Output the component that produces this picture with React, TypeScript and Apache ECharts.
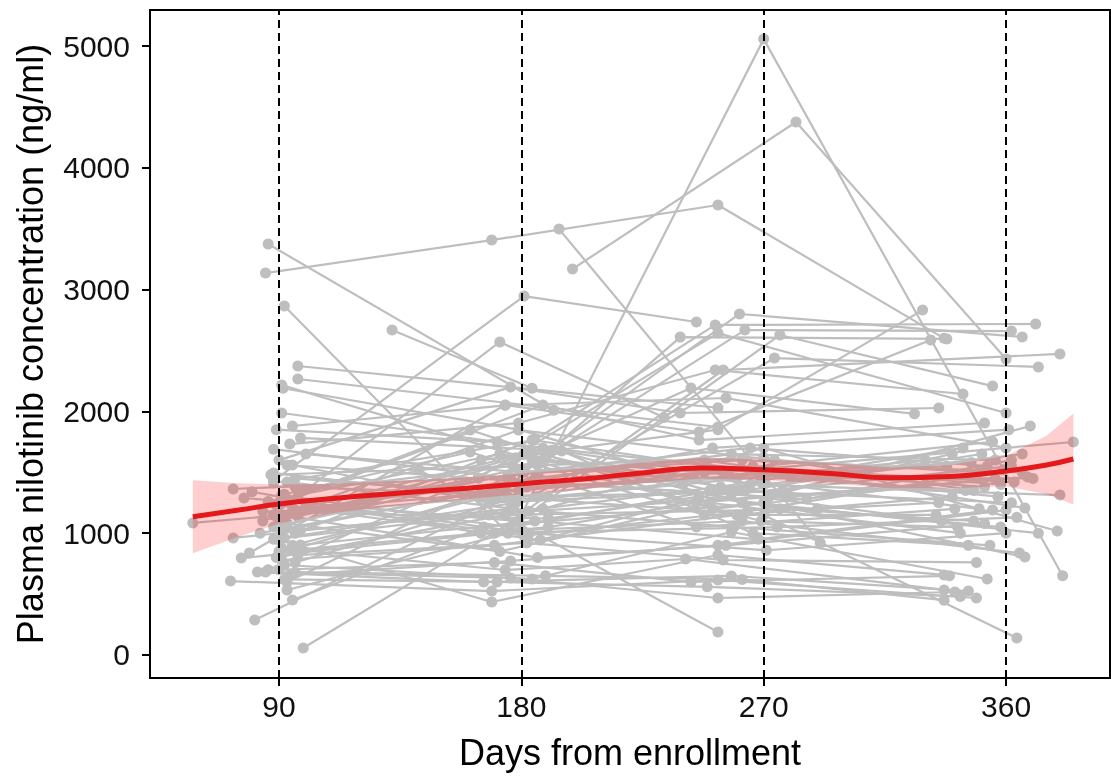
import React, { useEffect, useRef } from "react";
import * as echarts from "echarts";

const xTicks = [90, 180, 270, 360];
const yTicks = [0, 1000, 2000, 3000, 4000, 5000];

// Each subject: list of [day, concentration]
const subjects: number[][][] = [
  [[86, 3374], [192, 2010]],
  [[85, 3136], [169, 3407], [253, 3695], [337, 2600]],
  [[194, 3497], [291, 920]],
  [[180, 1150], [270, 5057], [381, 650]],
  [[199, 3169], [282, 4376], [360, 2430]],
  [[92, 2866], [175, 1000]],
  [[132, 2668], [184, 2190]],
  [[88, 1430], [181, 2947], [245, 2734]],
  [[88, 1150], [172, 2570], [233, 1950]],
  [[97, 2373], [253, 2030]],
  [[97, 2266], [253, 1872]],
  [[91, 2217], [184, 1600], [270, 1400], [366, 1650]],
  [[91.5, 2190], [179, 1850], [258, 1350], [362, 1250]],
  [[91, 1987], [188, 1700], [276, 1500], [352, 1380]],
  [[95, 1880], [174, 2050], [256, 2110], [360, 1700]],
  [[98, 1782], [191, 1680], [243, 2192], [326, 1980]],
  [[94, 1732], [179, 1905], [252, 2340], [344, 2143]],
  [[88, 1690], [176, 1450], [263, 2668], [362, 2660]],
  [[88, 1494], [166, 1300], [261, 2800], [366, 2611]],
  [[88, 1412], [185, 1765], [252, 2710], [371, 2718]],
  [[73, 1363], [164, 1453], [253, 2643], [360, 1987]],
  [[77, 1289], [179, 1100], [276, 2627], [355, 2208]],
  [[58, 1084], [171, 1300], [239, 2610], [338, 2595]],
  [[73, 961], [176, 1200], [274, 2438], [372, 2365]],
  [[76, 796], [170, 1000], [255, 2340], [380, 2472]],
  [[79, 837], [174, 2052], [246, 1831], [332, 2586]],
  [[72, 607], [169, 525], [253, 616], [349, 468]],
  [[82, 681], [166, 599], [258, 649], [346, 525]],
  [[85, 681], [176, 632], [253, 468], [341, 517]],
  [[81, 287], [175, 1297], [270, 1150], [364, 140]],
  [[99, 57], [183, 1180], [272, 1300], [369, 1880]],
  [[142, 1520], [253, 189]],
  [[90, 944], [169, 435], [253, 821], [337, 657]],
  [[91, 878], [174, 698], [241, 788], [337, 534]],
  [[92, 739], [184, 624], [258, 1010], [353, 624]],
  [[94, 657], [176, 772], [253, 900], [360, 1190]],
  [[93, 534], [180, 1026], [262, 1100], [365, 837]],
  [[95, 452], [166, 1051], [270, 1250], [367, 805]],
  [[89, 1232], [187, 944], [265, 1400], [380, 1313]],
  [[92, 1150], [181, 1500], [248, 1600], [367, 1207]],
  [[98, 1026], [188, 1200], [270, 1700], [379, 1018]],
  [[95, 1190], [179, 1350], [255, 1500], [385, 1749]],
  [[91, 780], [170, 900], [260, 1150], [340, 1300]],
  [[98, 903], [185, 1100], [268, 950], [355, 1190]],
  [[165, 1600], [253, 1850], [329, 2832]],
  [[90, 1600], [176, 2200], [239, 1987], [335, 2028]],
  [[97, 1300], [188, 2052], [246, 1765], [352, 1905]],
  [[84, 1100], [179, 1847], [274, 1600], [350, 1500]],
  [[96, 1000], [184, 1765], [280, 1450], [345, 1350]],
  [[90, 1050], [192, 1683], [250, 1350], [336, 1100]],
  [[86, 700], [184, 1667], [262, 1250], [358, 1050]],
  [[93, 600], [195, 1675], [266, 1000], [346, 900]],
  [[90, 1250], [161, 1847], [251, 1200], [356, 1450]],
  [[92, 1320], [161, 1667], [245, 1050], [341, 1200]],
  [[98, 1180], [164, 1453], [258, 1320], [362, 1550]],
  [[83, 1000], [180, 1400], [272, 1530], [363, 1420]],
  [[89, 800], [174, 1150], [290, 1200], [335, 1250]],
  [[88, 950], [178, 1250], [268, 1500], [357, 1300]],
  [[96, 1380], [190, 1300], [240, 1400], [330, 1600]],
  [[91, 1150], [186, 800], [256, 900], [352, 1080]],
  [[93, 1080], [172, 850], [250, 1250], [343, 1000]],
  [[100, 1230], [181, 980], [264, 1180], [359, 1520]],
  [[87, 1480], [177, 1550], [270, 1620], [348, 1350]],
  [[95, 900], [182, 1380], [260, 1450], [370, 1450]],
  [[90, 700], [170, 760], [243, 600], [339, 650]],
  [[92, 620], [171, 600], [249, 560], [343, 480]],
  [[96, 680], [189, 650], [262, 620], [337, 450]],
  [[80, 1340], [165, 1000], [275, 1050], [364, 1130]],
  [[84, 1180], [190, 1120], [246, 1300], [372, 1000]],
  [[96, 1450], [186, 1300], [277, 1350], [340, 1650]],
  [[100, 1650], [180, 1500], [265, 1700], [353, 1550]],
  [[89, 1850], [171, 1750], [248, 1500], [355, 1750]],
  [[93, 1560], [183, 1420], [286, 1280], [362, 1600]],
  [[97, 820], [182, 920], [255, 780], [349, 760]],
  [[91, 1310], [176, 1050], [269, 1420], [350, 1200]],
  [[90, 1100], [178, 1620], [257, 1480], [347, 1580]],
  [[94, 1270], [183, 1000], [271, 860], [360, 1000]],
  [[88, 1050], [175, 1480], [262, 1600], [366, 1500]],
  [[97, 1140], [186, 1560], [248, 1150], [334, 1150]],
  [[92, 960], [168, 1150], [254, 1380], [344, 1700]],
  [[96, 760], [179, 1300], [266, 1550], [358, 1400]],
  [[90, 850], [190, 1050], [245, 1250], [330, 1400]],
  [[86, 1260], [172, 1650], [280, 1300], [368, 1461]],
  [[93, 1420], [177, 1200], [259, 1050], [354, 900]],
  [[99, 1350], [187, 1580], [269, 1100], [342, 1050]],
  [[91, 1020], [174, 1380], [251, 1700], [361, 1850]],
  [[95, 1560], [168, 1250], [263, 1350], [351, 1650]],
  [[88, 1150], [181, 1650], [276, 1200], [348, 1100]],
  [[94, 860], [171, 1350], [244, 1450], [338, 1550]],
  [[96, 1190], [185, 1450], [258, 1650], [356, 1600]],
];

// Smoothed fit and confidence half-width
const fitDays = [58, 75, 90, 110, 135, 160, 180, 205, 225, 247, 270, 295, 317, 339, 360, 375, 385];
const fitMean = [1135, 1190, 1240, 1285, 1330, 1370, 1405, 1450, 1495, 1535, 1520, 1490, 1455, 1465, 1510, 1560, 1609];
const fitHalf = [300, 220, 160, 120, 100, 90, 85, 85, 85, 85, 85, 85, 85, 95, 125, 240, 373];

const FONT = "'Liberation Sans', Arial, sans-serif";

export default function App() {
  const ref = useRef<HTMLDivElement>(null);
  useEffect(() => {
    const chart = echarts.init(ref.current as HTMLDivElement, null, { renderer: "svg" });
    const subjectSeries = subjects.map((pts, i) => ({
      type: "line",
      name: "subject" + i,
      data: pts,
      symbol: "circle",
      symbolSize: 11,
      showSymbol: true,
      itemStyle: { color: "#BEBEBE" },
      lineStyle: { color: "#BEBEBE", width: 2.2 },
      z: 2,
      silent: true,
    }));
    const option: any = {
      animation: false,
      grid: {
        left: 150,
        right: 1,
        top: 10,
        bottom: 100,
        show: true,
        borderColor: "#000",
        borderWidth: 2,
        backgroundColor: "transparent",
      },
      xAxis: {
        type: "value",
        min: 42.1,
        max: 398.6,
        splitLine: { show: false },
        axisLine: { show: true, onZero: false, lineStyle: { color: "#000", width: 2 } },
        axisTick: { show: true, customValues: xTicks, length: 8, lineStyle: { color: "#000", width: 2 } },
        axisLabel: {
          customValues: xTicks,
          fontSize: 30,
          color: "#111",
          margin: 13,
          fontFamily: FONT,
          formatter: (v: number) => String(v),
        },
        name: "Days from enrollment",
        nameLocation: "middle",
        nameGap: 56,
        nameTextStyle: { fontSize: 36, color: "#000", fontFamily: FONT },
      },
      yAxis: {
        type: "value",
        min: -189,
        max: 5296,
        splitLine: { show: false },
        axisLine: { show: true, onZero: false, lineStyle: { color: "#000", width: 2 } },
        axisTick: { show: true, customValues: yTicks, length: 8, lineStyle: { color: "#000", width: 2 } },
        axisLabel: {
          customValues: yTicks,
          fontSize: 30,
          color: "#111",
          margin: 20,
          fontFamily: FONT,
          formatter: (v: number) => String(v),
        },
        name: "Plasma nilotinib concentration (ng/ml)",
        nameLocation: "middle",
        nameGap: 102,
        nameTextStyle: { fontSize: 36, color: "#000", fontFamily: FONT },
      },
      series: [
        {
          type: "line",
          data: [],
          z: 1,
          silent: true,
          markLine: {
            silent: true,
            symbol: "none",
            label: { show: false },
            lineStyle: { color: "#000", type: [8, 5], width: 2 },
            data: xTicks.map((x) => ({ xAxis: x })),
          },
        },
        ...subjectSeries,
        {
          type: "custom",
          silent: true,
          z: 3,
          data: [[fitDays[0], fitMean[0]]],
          renderItem: (_params: any, api: any) => {
            const upper = fitDays.map((d, i) => api.coord([d, fitMean[i] + fitHalf[i]]));
            const lower = fitDays.map((d, i) => api.coord([d, fitMean[i] - fitHalf[i]])).reverse();
            return {
              type: "polygon",
              shape: { points: upper.concat(lower) },
              style: { fill: "rgba(255,0,0,0.19)" },
            };
          },
        },
        {
          type: "line",
          data: fitDays.map((d, i) => [d, fitMean[i]]),
          smooth: true,
          symbol: "none",
          lineStyle: { color: "#E3191C", width: 5 },
          z: 4,
          silent: true,
        },
      ],
    };
    chart.setOption(option);
    return () => chart.dispose();
  }, []);
  return <div ref={ref} style={{ position: "fixed", left: 0, top: 0, width: 1111, height: 778 }} />;
}
